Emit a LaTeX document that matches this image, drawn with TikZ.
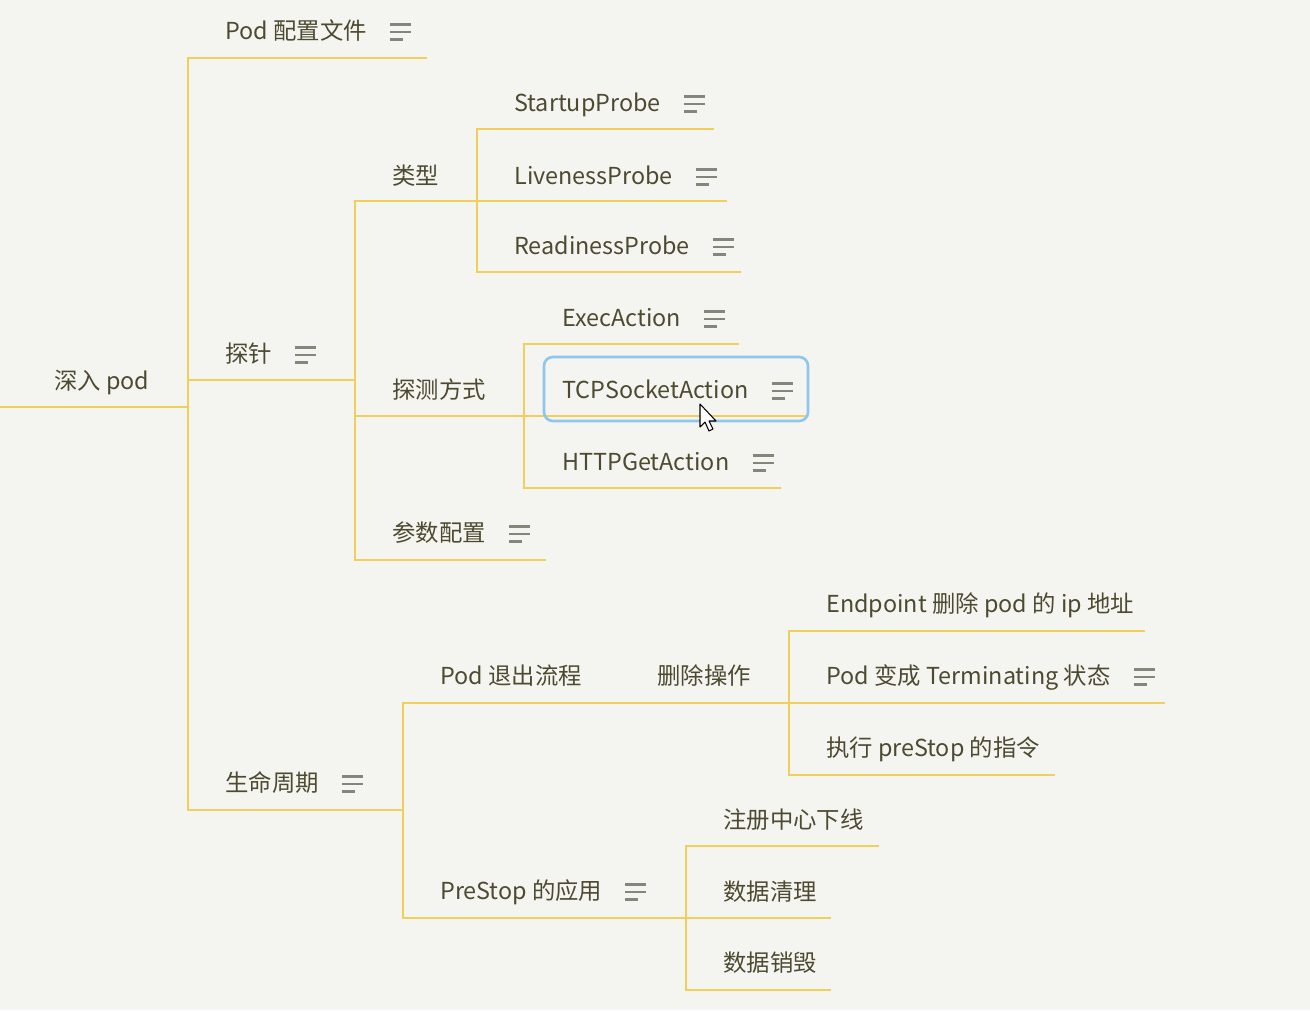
\documentclass[tikz,border=0pt]{standalone}
\usepackage{fontspec}
\setmainfont{Noto Sans CJK SC}
\usepackage{tikz}
\usetikzlibrary{calc}
\definecolor{paperbg}  {HTML}{F4F4F1}
\definecolor{branchcol}{HTML}{F0D05C}
\definecolor{topictext}{HTML}{4E4A30}
\definecolor{iconcol}  {HTML}{86857B}
\definecolor{selblue}  {HTML}{8EC6EE}
\tikzset{
  topic/.style={
    anchor=west, inner sep=0pt, text=topictext,
    font=\fontsize{13.3}{16}\selectfont,
    text height=0.8em, text depth=0.2em, yshift=-2.2pt
  },
  branch/.style={draw=branchcol, line width=1.4pt},
  iconline/.style={draw=iconcol, line width=1.4pt},
  noteicon/.pic={
    \draw[iconline] (0,-7.5) -- (21,-7.5);
    \draw[iconline] (0,0) -- (21,0);
    \draw[iconline] (0,7.5) -- (13,7.5);
  },
  selbox/.style={draw=selblue, line width=1.5pt, rounded corners=5pt}
}
\begin{document}
\begin{tikzpicture}[x=0.02cm, y=-0.02cm]

  \fill[paperbg] (0,0) rectangle (1310,1010);
  \useasboundingbox (0,0) rectangle (1310,1010);

  % topics
  \node[topic] (t-root)        at (54,380)  {深入 pod};
  \node[topic] (t-pod)         at (225,30)  {Pod 配置文件};
  \node[topic] (t-probe)       at (225,353) {探针};
  \node[topic] (t-kind)        at (392,175) {类型};
  \node[topic] (t-startup)     at (514,102) {StartupProbe};
  \node[topic] (t-liveness)    at (514,175) {LivenessProbe};
  \node[topic] (t-readiness)   at (514,245) {ReadinessProbe};
  \node[topic] (t-method)      at (392,389) {探测方式};
  \node[topic] (t-exec)        at (562,317) {ExecAction};
  \node[topic] (t-tcp)         at (562,389) {TCPSocketAction};
  \node[topic] (t-http)        at (562,461) {HTTPGetAction};
  \node[topic] (t-param)       at (392,532) {参数配置};
  \node[topic] (t-life)        at (225,782) {生命周期};
  \node[topic] (t-exit)        at (440,675) {Pod 退出流程};
  \node[topic] (t-delop)       at (657,675) {删除操作};
  \node[topic] (t-endpoint)    at (826,603) {Endpoint 删除 pod 的 ip 地址};
  \node[topic] (t-terminating) at (826,675) {Pod 变成 Terminating 状态};
  \node[topic] (t-prestopcmd)  at (826,747) {执行 preStop 的指令};
  \node[topic] (t-app)         at (440,890) {PreStop 的应用};
  \node[topic] (t-registry)    at (723,819) {注册中心下线};
  \node[topic] (t-cleanup)     at (723,891) {数据清理};
  \node[topic] (t-destroy)     at (723,962) {数据销毁};

  % underline ends
  \coordinate (root-s)        at (0,407);
  \coordinate (root-e)        at (188,407);
  \coordinate (pod-e)         at (427,58);
  \coordinate (probe-e)       at (355,380);
  \coordinate (kind-e)        at (477,201);
  \coordinate (startup-e)     at (714,129);
  \coordinate (liveness-e)    at (727,201);
  \coordinate (readiness-e)   at (741,272);
  \coordinate (method-e)      at (524,416);
  \coordinate (exec-e)        at (739,344);
  \coordinate (tcp-e)         at (806,416);
  \coordinate (http-e)        at (781,488);
  \coordinate (param-e)       at (546,560);
  \coordinate (life-e)        at (403,810);
  \coordinate (exit-e)        at (604,703);
  \coordinate (delop-e)       at (789,703);
  \coordinate (endpoint-e)    at (1145,631);
  \coordinate (terminating-e) at (1165,703);
  \coordinate (prestopcmd-e)  at (1055,775);
  \coordinate (app-e)         at (686,918);
  \coordinate (registry-e)    at (879,846);
  \coordinate (cleanup-e)     at (831,918);
  \coordinate (destroy-e)     at (831,990);

  \draw[branch] (root-s) -- (root-e);
  \foreach \a/\b in {root/pod, root/probe, root/life,
                     probe/kind, probe/method, probe/param,
                     kind/startup, kind/liveness, kind/readiness,
                     method/exec, method/tcp, method/http,
                     life/exit, life/app, exit/delop,
                     delop/endpoint, delop/terminating, delop/prestopcmd,
                     app/registry, app/cleanup, app/destroy}{
    \draw[branch] (\a-e) |- (\b-e);
  }

  % note icons
  \foreach \n in {pod, probe, startup, liveness, readiness, exec,
                  tcp, http, param, life, terminating, app}{
    \path (t-\n.east) ++(23,-2) pic {noteicon};
  }

  % selection frame and pointer
  \draw[selbox] (544,357) rectangle (808,421);
  \draw[fill=white, line width=0.6pt, line join=round]
    (700,404) -- (700,427) -- (705,422) -- (709,431) -- (713,429)
    -- (709,421) -- (716,421) -- cycle;

\end{tikzpicture}
\end{document}
